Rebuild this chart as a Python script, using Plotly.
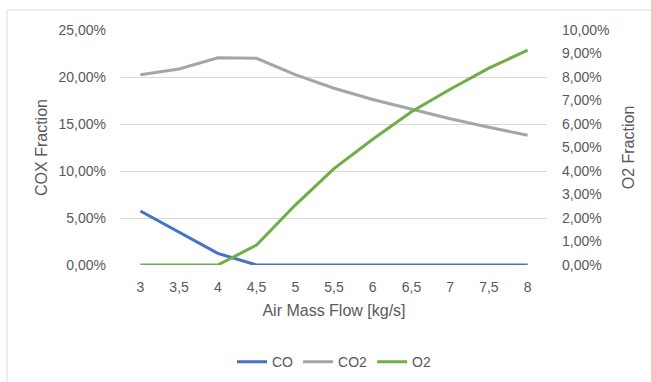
import plotly.graph_objects as go

x_labels = ["3", "3,5", "4", "4,5", "5", "5,5", "6", "6,5", "7", "7,5", "8"]
co = [0.0575, 0.035, 0.0124, 0.0, 0.0, 0.0, 0.0, 0.0, 0.0, 0.0, 0.0]
co2 = [0.2024, 0.2085, 0.2205, 0.2199, 0.2025, 0.1880, 0.1760, 0.1655, 0.1555, 0.1465, 0.1380]
o2 = [0.0, 0.0, 0.0, 0.0085, 0.0255, 0.041, 0.0535, 0.0652, 0.0748, 0.0838, 0.0914]

font_family = "Liberation Sans, Noto Sans, sans-serif"
tick_color = "#595959"

fig = go.Figure()
fig.add_trace(go.Scatter(x=x_labels, y=co, name="CO", mode="lines",
                         line=dict(color="#4472C4", width=3), yaxis="y"))
fig.add_trace(go.Scatter(x=x_labels, y=co2, name="CO2", mode="lines",
                         line=dict(color="#A5A5A5", width=3), yaxis="y"))
fig.add_trace(go.Scatter(x=x_labels, y=o2, name="O2", mode="lines",
                         line=dict(color="#70AD47", width=3), yaxis="y2"))

fig.update_layout(
    width=651, height=382,
    margin=dict(l=121, r=104, t=30, b=117),
    paper_bgcolor="white", plot_bgcolor="white",
    separators=", ",
    font=dict(family=font_family, size=14, color=tick_color),
    xaxis=dict(type="category", range=[-0.5, 10.5], showgrid=False, zeroline=False,
               showline=False, ticks="", ticklabelstandoff=12,
               title=dict(text="Air Mass Flow [kg/s]", font=dict(size=16, color=tick_color), standoff=10)),
    yaxis=dict(range=[0, 0.25], dtick=0.05, tickformat=".2%", gridcolor="#D9D9D9",
               zeroline=False, showline=False, ticks="", ticklabelstandoff=14,
               title=dict(text="COX Fraction", font=dict(size=16, color=tick_color), standoff=6)),
    yaxis2=dict(range=[0, 0.10], dtick=0.01, tickformat=".2%", overlaying="y", side="right",
                showgrid=False, zeroline=False, showline=False, ticks="", ticklabelstandoff=14,
                title=dict(text="O2 Fraction", font=dict(size=16, color=tick_color), standoff=14)),
    legend=dict(orientation="h", x=0.5, xanchor="center", yref="container", y=0.052, yanchor="middle",
                font=dict(size=14, color=tick_color), bgcolor="rgba(0,0,0,0)"),
    showlegend=True,
)

fig.add_shape(type="rect", xref="paper", yref="paper",
              x0=-0.2676, x1=1.35, y0=-0.7, y1=1.085,
              line=dict(color="#D9D9D9", width=1), fillcolor="rgba(0,0,0,0)", layer="below")

fig.write_html("out.html")
